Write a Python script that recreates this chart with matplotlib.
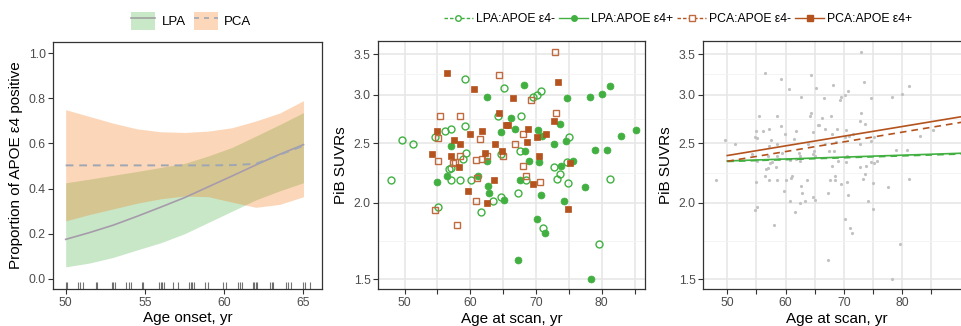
import numpy as np
import matplotlib
matplotlib.use("Agg")
import matplotlib.pyplot as plt
from matplotlib.lines import Line2D
from matplotlib.patches import Patch
from matplotlib.ticker import FixedLocator, FuncFormatter, NullFormatter

plt.rcParams['font.family'] = ['Liberation Sans', 'DejaVu Sans']

# ---- panel 1: proportion APOE e4 positive vs age at onset ----
onset_x = [50, 51.5, 53, 54.5, 56, 57.5, 59, 60.5, 62, 63.5, 65]
lpa_fit = [0.175, 0.205, 0.238, 0.277, 0.318, 0.36, 0.408, 0.456, 0.505, 0.552, 0.595]
lpa_lo = [0.053, 0.07, 0.095, 0.128, 0.16, 0.20, 0.25, 0.30, 0.35, 0.39, 0.426]
lpa_hi = [0.426, 0.442, 0.459, 0.476, 0.494, 0.512, 0.545, 0.583, 0.633, 0.684, 0.737]
pca_fit = [0.503, 0.503, 0.503, 0.503, 0.503, 0.503, 0.503, 0.504, 0.51, 0.55, 0.59]
pca_lo = [0.257, 0.285, 0.31, 0.335, 0.355, 0.367, 0.364, 0.34, 0.317, 0.33, 0.364]
pca_hi = [0.75, 0.72, 0.69, 0.665, 0.652, 0.649, 0.655, 0.67, 0.70, 0.735, 0.79]
rug_onset = [50.0, 50.1, 50.8, 50.9, 51.1, 51.9, 52.0, 52.9, 53.0, 53.1, 53.8, 54.0,
             54.1, 54.8, 54.9, 55.9, 56.0, 56.1, 56.2, 56.8, 57.1, 57.8, 57.9, 58.0,
             58.1, 58.8, 59.0, 59.9, 60.1, 60.9, 61.0, 61.1, 61.8, 61.9, 62.0, 62.1,
             62.9, 63.0, 63.1, 63.9, 64.0, 64.2, 65.0, 65.1, 65.4]

# ---- panels 2/3: PiB SUVR vs age at scan ----
lpa_neg_age = [48.0, 49.6, 51.3, 54.7, 55.1, 56.2, 56.7, 57.0, 57.1, 57.1, 58.5, 58.85,
               59.2, 59.2, 59.4, 60.1, 61.6, 63.4, 64.2, 64.7, 64.7, 65.2, 67.2, 67.5,
               67.7, 68.5, 69.5, 70.1, 70.7, 71.0, 72.7, 73.2, 73.6, 74.7, 74.9, 75.1,
               79.6, 81.2]
lpa_neg_suvr = [2.18, 2.53, 2.49, 2.56, 1.97, 2.62, 2.27, 2.28, 2.18, 2.64, 2.18, 2.36,
                2.67, 3.19, 2.41, 2.18, 1.93, 2.01, 2.77, 2.40, 2.04, 3.08, 2.07, 2.43,
                2.77, 2.18, 2.975, 3.0, 3.05, 1.82, 2.29, 2.19, 2.23, 2.33, 2.15, 2.56,
                1.71, 2.19]
lpa_pos_age = [54.9, 56.5, 57.1, 61.1, 62.5, 62.6, 62.7, 62.8, 64.7, 65.1, 66.2, 66.8,
               67.2, 67.6, 68.2, 68.3, 69.0, 70.1, 70.3, 70.4, 70.7, 70.9, 71.4, 72.7,
               73.6, 73.8, 74.2, 74.6, 74.7, 75.7, 77.5, 78.2, 78.3, 79.0, 80.0, 80.8,
               81.2, 83.0, 85.2]
lpa_pos_suvr = [2.16, 2.21, 2.48, 2.21, 2.34, 2.98, 2.13, 2.07, 2.605, 2.02, 2.75, 2.64,
                1.61, 2.18, 3.115, 2.43, 2.34, 1.88, 2.63, 2.33, 2.06, 2.57, 1.785, 2.49,
                2.69, 2.30, 2.01, 2.52, 2.97, 2.34, 2.12, 2.98, 1.50, 2.44, 3.01, 2.44,
                3.10, 2.57, 2.63]
pca_neg_age = [54.7, 55.1, 55.1, 55.4, 57.4, 57.6, 58.0, 58.5, 58.5, 60.8, 60.8, 61.0,
               61.4, 61.8, 62.5, 64.3, 65.0, 66.8, 68.0, 68.0, 68.5, 69.3, 70.6, 72.9,
               73.0]
pca_neg_suvr = [1.945, 2.34, 2.55, 2.77, 2.32, 2.33, 1.84, 2.38, 2.77, 2.01, 2.35, 2.195,
                2.54, 2.36, 2.38, 3.24, 2.38, 2.49, 2.59, 2.30, 2.21, 2.94, 2.16, 3.52,
                2.80]
pca_pos_age = [54.2, 55.0, 56.4, 57.0, 57.5, 58.3, 58.5, 59.7, 59.9, 60.5, 61.8, 62.3,
               62.5, 63.6, 63.8, 64.4, 64.9, 65.5, 65.8, 66.5, 68.6, 68.8, 69.5, 70.5,
               70.2, 71.5, 72.8, 73.4, 74.9, 75.2]
pca_pos_suvr = [2.40, 2.62, 3.26, 2.38, 2.53, 2.29, 2.49, 2.09, 2.59, 3.07, 2.62, 2.41,
                2.00, 2.18, 2.49, 2.80, 2.43, 2.68, 2.68, 2.97, 2.51, 2.64, 2.145, 2.38,
                2.56, 2.59, 2.72, 3.15, 1.955, 2.32]

# model lines (panel 3), ends of each straight fit
fit_age = [50, 92]
fit_lpa_neg = [2.335, 2.405]
fit_lpa_pos = [2.34, 2.412]
fit_pca_neg = [2.337, 2.725]
fit_pca_pos = [2.388, 2.783]

green = '#41b041'
brown = '#b4531e'
grey_txt = '#4d4d4d'
frame = '#333333'

fig = plt.figure(figsize=(9.62, 3.26), dpi=100)
ax1 = fig.add_axes([0.0554, 0.1135, 0.279, 0.7577])
ax2 = fig.add_axes([0.3933, 0.1125, 0.2772, 0.7627])
ax3 = fig.add_axes([0.7311, 0.1125, 0.2772, 0.7627])

for ax in (ax1, ax2, ax3):
    for s in ax.spines.values():
        s.set_color(frame)
        s.set_linewidth(0.9)
    ax.tick_params(direction='out', length=3.5, width=0.8, color=frame,
                   labelcolor=grey_txt, labelsize=8.8, pad=2)

# panel 1
ax1.fill_between(onset_x, lpa_lo, lpa_hi, color='#48b248', alpha=0.3, lw=0)
ax1.fill_between(onset_x, pca_lo, pca_hi, color='#f87a16', alpha=0.3, lw=0)
ax1.plot(onset_x, lpa_fit, color='#a79bab', lw=1.2)
ax1.plot(onset_x, pca_fit, color='#9ea6b4', lw=1.4, ls=(0, (4, 3)))
ax1.vlines(rug_onset, 0, 0.03, transform=ax1.get_xaxis_transform(),
           color='black', alpha=0.55, lw=0.8)
ax1.set_xlim(49.22, 66.15)
ax1.set_ylim(-0.045, 1.05)
ax1.set_xticks([50, 55, 60, 65])
ax1.set_yticks([0, 0.2, 0.4, 0.6, 0.8, 1.0])
ax1.yaxis.set_major_formatter(FuncFormatter(lambda v, p: f'{v:.1f}'))
ax1.set_xlabel('Age onset, yr', fontsize=11, labelpad=2)
ax1.set_ylabel('Proportion of APOE ε4 positive', fontsize=11, labelpad=4)

# panels 2 and 3 shared styling
age_ticks = [50, 55, 60, 65, 70, 75, 80, 85]
suvr_ticks = [1.5, 2.0, 2.5, 3.0, 3.5]
suvr_minor = [np.sqrt(a * b) for a, b in zip(suvr_ticks[:-1], suvr_ticks[1:])]
for ax in (ax2, ax3):
    ax.set_yscale('log')
    ax.set_ylim(1.443, 3.68)
    ax.yaxis.set_major_locator(FixedLocator(suvr_ticks))
    ax.yaxis.set_major_formatter(FuncFormatter(lambda v, p: f'{v:.1f}'))
    ax.yaxis.set_minor_locator(FixedLocator(suvr_minor))
    ax.yaxis.set_minor_formatter(NullFormatter())
    ax.tick_params(axis='y', which='minor', length=0)
    ax.xaxis.set_major_locator(FixedLocator(age_ticks))
    ax.xaxis.set_major_formatter(FuncFormatter(
        lambda v, p: f'{v:.0f}' if v % 10 == 0 and v <= 80 else ''))
    ax.grid(which='major', color='#e6e6e6', lw=1.1)
    ax.grid(which='minor', axis='y', color='#f2f2f2', lw=0.6)
    ax.set_axisbelow(True)
    ax.set_xlabel('Age at scan, yr', fontsize=11, labelpad=2)
    ax.set_ylabel('PiB SUVRs', fontsize=11, labelpad=4)

ax2.set_xlim(46.0, 86.6)
ax3.set_xlim(45.9, 91.6)

ms = 5
ax2.plot(lpa_neg_age, lpa_neg_suvr, 'o', ms=ms, mfc='none', mec=green, mew=1.0)
ax2.plot(lpa_pos_age, lpa_pos_suvr, 'o', ms=ms, mfc=green, mec=green, mew=0.5)
ax2.plot(pca_neg_age, pca_neg_suvr, 's', ms=ms, mfc='none', mec='#c06a40', mew=1.0)
ax2.plot(pca_pos_age, pca_pos_suvr, 's', ms=ms, mfc=brown, mec=brown, mew=0.5)

all_age = lpa_neg_age + lpa_pos_age + pca_neg_age + pca_pos_age
all_suvr = lpa_neg_suvr + lpa_pos_suvr + pca_neg_suvr + pca_pos_suvr
ax3.plot(all_age, all_suvr, 'o', ms=2.3, color='#c2c2c2', mew=0)
ax3.plot(fit_age, fit_lpa_neg, color=green, lw=1.2, ls=(0, (4, 3)))
ax3.plot(fit_age, fit_lpa_pos, color=green, lw=1.2)
ax3.plot(fit_age, fit_pca_neg, color=brown, lw=1.2, ls=(0, (4, 3)))
ax3.plot(fit_age, fit_pca_pos, color=brown, lw=1.2)

# legends
leg1 = fig.legend(
    handles=[(Patch(fc='#c8e8c8', lw=0), Line2D([], [], color='#a0a0a0', lw=1.2)),
             (Patch(fc='#fdd7b9', lw=0), Line2D([], [], color='#a0a6b2', lw=1.2, ls=(0, (3, 3))))],
    labels=['LPA', 'PCA'], loc='center', bbox_to_anchor=(0.199, 0.936), ncol=2,
    frameon=False, fontsize=9.5, handlelength=1.8, handleheight=1.8,
    handletextpad=0.5, columnspacing=0.6, borderpad=0)

leg2 = fig.legend(
    handles=[Line2D([], [], color=green, lw=1, ls=(0, (2.5, 1.5)), marker='o', ms=4,
                    mfc='white', mec=green),
             Line2D([], [], color=green, lw=1, marker='o', ms=4, mfc=green, mec=green),
             Line2D([], [], color=brown, lw=1, ls=(0, (2.5, 1.5)), marker='s', ms=4,
                    mfc='white', mec='#c06a40'),
             Line2D([], [], color=brown, lw=1, marker='s', ms=4, mfc=brown, mec=brown)],
    labels=['LPA:APOE ε4-', 'LPA:APOE ε4+', 'PCA:APOE ε4-', 'PCA:APOE ε4+'],
    loc='center', bbox_to_anchor=(0.705, 0.942), ncol=4, frameon=False, fontsize=8.8,
    handlelength=2.4, handletextpad=0.25, columnspacing=0.3, borderpad=0)

fig.savefig('out.png', dpi=100)
